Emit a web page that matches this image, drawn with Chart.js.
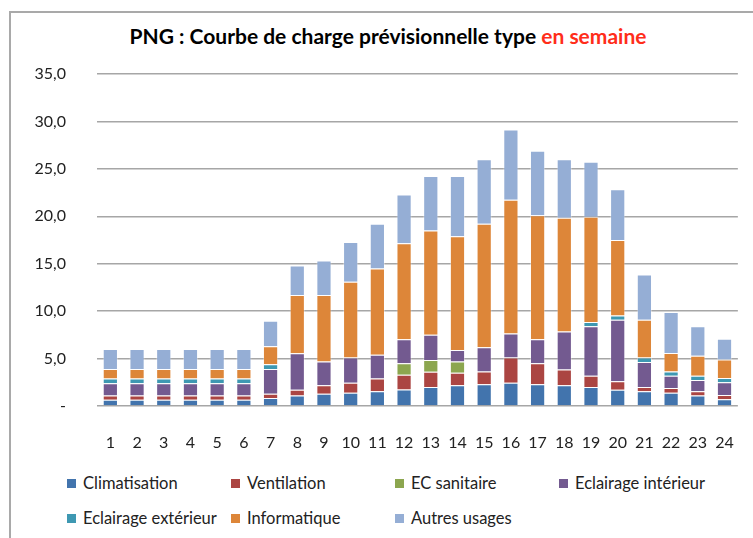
<!DOCTYPE html>
<html>
<head>
<meta charset="utf-8">
<script src="https://cdn.jsdelivr.net/npm/chart.js@4/dist/chart.umd.min.js"></script>
<style>
  html, body { margin: 0; padding: 0; background: #fff; }
  body { width: 753px; height: 538px; position: relative; overflow: hidden; font-family: Lato, sans-serif; }
  #frame { position: absolute; left: 9px; top: 11px; width: 760px; height: 560px; border: 2px solid #a9a9a9; box-sizing: border-box; }
  #title { position: absolute; left: 0; width: 776px; top: 23px; text-align: center; font-weight: bold; font-size: 21px; color: #000; }
  #title span { color: #ff2d1a; }
  #chartBox { position: absolute; left: 0; top: 0; width: 753px; height: 460px; }
  #legend { position: absolute; left: 67px; top: 474px; display: grid; grid-template-columns: repeat(4, 164px); row-gap: 17px; font-size: 16.5px; color: #222; }
  .item { display: flex; align-items: center; white-space: nowrap; height: 18px; }
  .box { width: 9px; height: 9px; margin-right: 7px; }
</style>
</head>
<body>
<div id="frame"></div>
<div id="title">PNG : Courbe de charge prévisionnelle type <span>en semaine</span></div>
<div id="chartBox"><canvas id="myChart" width="753" height="460"></canvas></div>
<div id="legend"></div>
<script>
var hours = ['1','2','3','4','5','6','7','8','9','10','11','12','13','14','15','16','17','18','19','20','21','22','23','24'];

var climatisation = [0.65,0.65,0.65,0.65,0.65,0.65,0.85,1.1,1.3,1.4,1.55,1.75,2.0,2.2,2.3,2.45,2.3,2.2,2.0,1.7,1.55,1.4,1.1,0.7];
var ventilation = [0.45,0.45,0.45,0.45,0.45,0.45,0.45,0.6,0.9,1.05,1.35,1.55,1.6,1.3,1.35,2.65,2.2,1.65,1.2,0.9,0.45,0.5,0.45,0.45];
var ecSanitaire = [0,0,0,0,0,0,0,0,0,0,0,1.2,1.25,1.2,0,0,0,0,0,0,0,0,0,0];
var eclairageInt = [1.3,1.3,1.3,1.3,1.3,1.3,2.6,3.85,2.5,2.65,2.5,2.55,2.65,1.2,2.55,2.55,2.55,4.0,5.2,6.5,2.65,1.3,1.2,1.35];
var eclairageExt = [0.5,0.5,0.5,0.5,0.5,0.5,0.5,0,0,0,0,0,0,0,0,0,0,0,0.45,0.45,0.45,0.45,0.45,0.45];
var informatique = [1.0,1.0,1.0,1.0,1.0,1.0,1.9,6.15,7.0,8.0,9.1,10.1,11.0,12.0,13.0,14.1,13.05,12.0,11.1,7.95,4.0,1.95,2.1,1.95];
var autresUsages = [2.1,2.1,2.1,2.1,2.1,2.1,2.7,3.1,3.65,4.2,4.7,5.15,5.75,6.35,6.8,7.4,6.8,6.15,5.8,5.35,4.75,4.3,3.1,2.2];

var seriesNames = ['Climatisation','Ventilation','EC sanitaire','Eclairage intérieur','Eclairage extérieur','Informatique','Autres usages'];
var seriesData = [climatisation, ventilation, ecSanitaire, eclairageInt, eclairageExt, informatique, autresUsages];
var seriesColors = ['#4274ad','#ab4542','#8ca64f','#735a90','#3e98b2','#dd8639','#95aed5'];

var datasets = seriesNames.map(function(name, i){
    return {
        label: name,
        data: seriesData[i],
        backgroundColor: seriesColors[i],
        borderColor: 'rgba(255,255,255,0.35)',
        borderWidth: 1,
        categoryPercentage: 0.57,
        barPercentage: 1
    };
});

var ctx = document.getElementById('myChart');
var myChart = new Chart(ctx, {
    type: 'bar',
    data: { labels: hours, datasets: datasets },
    options: {
        responsive: false,
        maintainAspectRatio: false,
        animation: false,
        devicePixelRatio: 1,
        layout: { padding: { top: 74, right: 10, left: 0, bottom: 0 } },
        plugins: {
            legend: { display: false },
            title: { display: false },
            tooltip: { enabled: false }
        },
        scales: {
            x: {
                stacked: true,
                grid: { display: false },
                border: { display: false },
                ticks: { color: '#222', font: { family: 'Lato', size: 16 }, padding: 19 },
                afterFit: function(scale){ scale.height = 54; }
            },
            y: {
                stacked: true,
                min: 0,
                max: 35,
                ticks: {
                    stepSize: 5,
                    color: '#222',
                    font: { family: 'Lato', size: 16 },
                    padding: 31,
                    callback: function(v){ return v === 0 ? '-' : v.toFixed(1).replace('.', ','); }
                },
                grid: { color: '#a6a6a6', lineWidth: 1.5, drawTicks: false },
                border: { display: false },
                afterFit: function(scale){ scale.width = 97; }
            }
        }
    }
});

var legend = document.getElementById('legend');
seriesNames.forEach(function(name, i){
    var item = document.createElement('div');
    item.className = 'item';
    var box = document.createElement('span');
    box.className = 'box';
    box.style.background = seriesColors[i];
    item.appendChild(box);
    item.appendChild(document.createTextNode(name));
    legend.appendChild(item);
});
</script>
</body>
</html>
